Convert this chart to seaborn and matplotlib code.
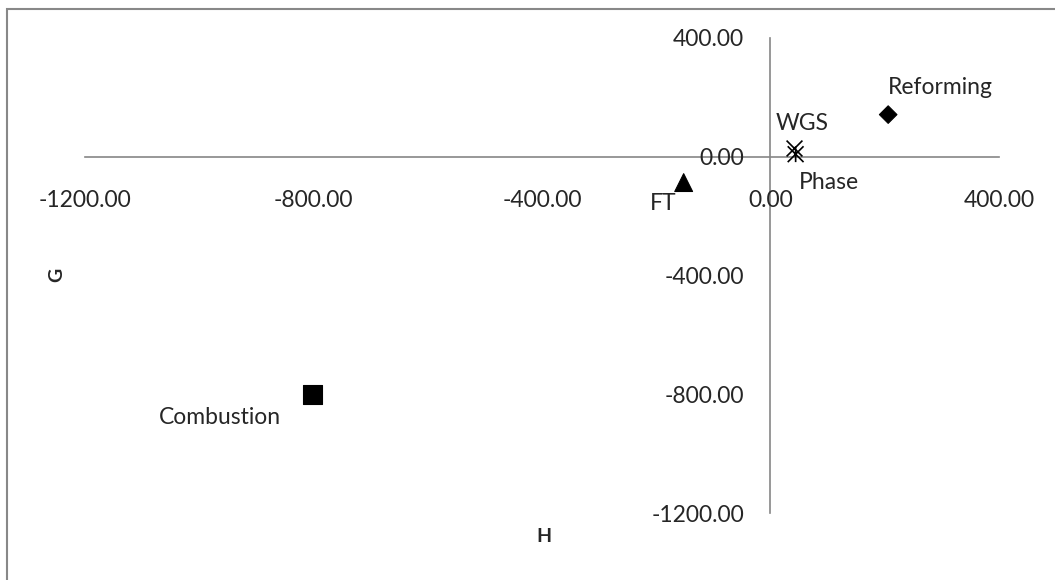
import matplotlib.pyplot as plt
import numpy as np
import pandas as pd
import seaborn as sns
from matplotlib.path import Path
from matplotlib.patches import Rectangle

# reaction data: H (x) and G (y)
processes = ["Reforming", "Combustion", "FT", "WGS", "Phase"]
H_vals = [206, -802, -152, 41, 44]
G_vals = [142, -801, -87, 28.6, 8.6]
ticks = [-1200, -800, -400, 0, 400]

sns.set_style("white")
plt.rcParams['font.family'] = ['Lato', 'DejaVu Sans']

df = pd.DataFrame({"Process": processes, "H": H_vals, "G": G_vals})
filled = df[df.Process.isin(["Reforming", "Combustion", "FT"])]
wgs = df[df.Process == "WGS"]
phase = df[df.Process == "Phase"]

# Excel style star marker: X with a vertical bar
star = Path([(-1, -1), (1, 1), (-1, 1), (1, -1), (0, -1), (0, 1)],
            [Path.MOVETO, Path.LINETO, Path.MOVETO, Path.LINETO, Path.MOVETO, Path.LINETO])

fig = plt.figure(figsize=(10.55, 5.8), dpi=100)
ax = fig.add_axes([85/1055, 67/580, 914/1055, 475/580])

sns.scatterplot(data=filled, x="H", y="G", style="Process", size="Process",
                markers={"Reforming": "D", "Combustion": "s", "FT": "^"},
                sizes={"Reforming": 80, "Combustion": 200, "FT": 165},
                color="black", edgecolor="black", legend=False, ax=ax)
sns.scatterplot(data=wgs, x="H", y="G", marker="x", s=130, color="black",
                linewidth=1.2, legend=False, ax=ax)
sns.scatterplot(data=phase, x="H", y="G", marker=star, s=130, color="black",
                edgecolor="black", facecolor="none", linewidth=1.2, legend=False, ax=ax)

ax.set_xlim(-1200, 400)
ax.set_ylim(-1200, 400)
ax.set_xticks(ticks)
ax.set_yticks(ticks)
ax.set_xticklabels([f"{t:.2f}" for t in ticks])
ax.set_yticklabels([f"{t:.2f}" for t in ticks])
ax.tick_params(axis="x", length=0, pad=24, labelsize=16.5)
ax.tick_params(axis="y", length=0, pad=19, labelsize=16.5)
ax.set_xlabel("")
ax.set_ylabel("")

for s in ["top", "right"]:
    ax.spines[s].set_visible(False)
for s in ["left", "bottom"]:
    ax.spines[s].set_position(("data", 0))
    ax.spines[s].set_color("#868686")
    ax.spines[s].set_linewidth(1.2)
    ax.spines[s].set_zorder(0)

# point labels (offsets in pixels -> points)
k = 0.72
ax.annotate("Reforming", (206, 142), xytext=(0, 27*k), textcoords="offset points",
            ha="left", va="center", fontsize=16.5)
ax.annotate("WGS", (41, 28.6), xytext=(-18*k, 25*k), textcoords="offset points",
            ha="left", va="center", fontsize=16.5)
ax.annotate("Phase", (44, 8.6), xytext=(3*k, -28*k), textcoords="offset points",
            ha="left", va="center", fontsize=16.5)
ax.annotate("FT", (-152, -87), xytext=(-20*k, -21*k), textcoords="offset points",
            ha="center", va="center", fontsize=16.5)
ax.annotate("Combustion", (-802, -801), xytext=(-92*k, -23*k), textcoords="offset points",
            ha="center", va="center", fontsize=16.5)

fig.text(544/1055, 1 - 536/580, "H", ha="center", va="center", fontsize=14, fontweight="bold")
fig.text(57/1055, 1 - 275/580, "G", ha="center", va="center", fontsize=14,
         fontweight="bold", rotation=90)

fig.add_artist(Rectangle((7/1055, -0.1), 1.2, 1.1 - 9/580, transform=fig.transFigure,
                         fill=False, edgecolor="#888888", linewidth=1.5, clip_on=False))

fig.savefig("out.png", dpi=100)
